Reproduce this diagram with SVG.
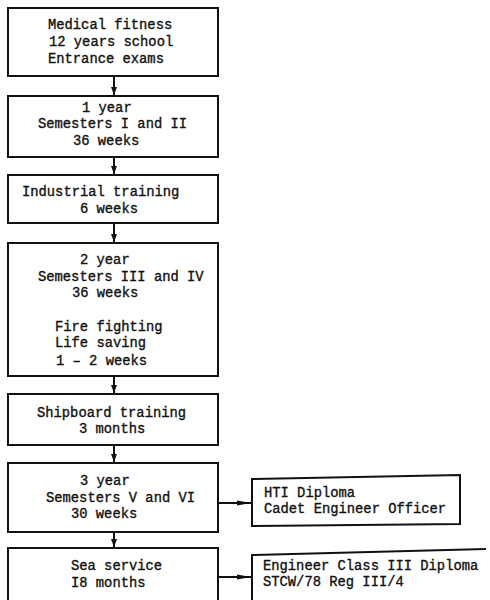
<svg xmlns="http://www.w3.org/2000/svg" width="490" height="600" viewBox="0 0 490 600">
  <style>
    .box { fill: #fff; stroke: #111; stroke-width: 2; }
    .edge { fill: none; stroke: #111; stroke-width: 2; }
    .lbl { font-family: "Liberation Mono", "DejaVu Sans Mono", monospace; font-size: 13.8px; fill: #111; stroke: #111; stroke-width: 0.35; }
  </style>
  <defs>
    <marker id="headDown" viewBox="0 0 8 6" refX="8" refY="3" markerWidth="8" markerHeight="6" markerUnits="userSpaceOnUse" orient="auto">
      <path d="M0,0 L8,3 L0,6 Z" fill="#111"/>
    </marker>
    <marker id="headRight" viewBox="0 0 14 7" refX="14" refY="3.5" markerWidth="14" markerHeight="7" markerUnits="userSpaceOnUse" orient="auto">
      <path d="M0,1 L14,3.5 L0,6 Z" fill="#111"/>
    </marker>
  </defs>

  <rect width="490" height="600" fill="#fff"/>

  <!-- connectors -->
  <g id="connectors">
    <line class="edge" x1="114" y1="76" x2="114" y2="95" marker-end="url(#headDown)"/>
    <line class="edge" x1="114" y1="157" x2="114" y2="174" marker-end="url(#headDown)"/>
    <line class="edge" x1="114" y1="223" x2="114" y2="242" marker-end="url(#headDown)"/>
    <line class="edge" x1="114" y1="376" x2="114" y2="393" marker-end="url(#headDown)"/>
    <line class="edge" x1="114" y1="445" x2="114" y2="462" marker-end="url(#headDown)"/>
    <line class="edge" x1="114" y1="532" x2="114" y2="547" marker-end="url(#headDown)"/>
    <line class="edge" x1="218" y1="503" x2="251" y2="503" marker-end="url(#headRight)"/>
    <line class="edge" x1="218" y1="577" x2="251" y2="577" marker-end="url(#headRight)"/>
  </g>

  <g id="entry">
    <rect class="box" x="8" y="8" width="210" height="68"/>
    <text class="lbl" x="48" y="29">Medical fitness</text>
    <text class="lbl" x="49" y="46">12 years school</text>
    <text class="lbl" x="48" y="63">Entrance exams</text>
  </g>

  <g id="year1">
    <rect class="box" x="8" y="96" width="210" height="61"/>
    <text class="lbl" x="82" y="112">1 year</text>
    <text class="lbl" x="38" y="128">Semesters I and II</text>
    <text class="lbl" x="73" y="145">36 weeks</text>
  </g>

  <g id="industrial">
    <rect class="box" x="8" y="175" width="210" height="48"/>
    <text class="lbl" x="22" y="196">Industrial training</text>
    <text class="lbl" x="80" y="213">6 weeks</text>
  </g>

  <g id="year2">
    <rect class="box" x="8" y="243" width="210" height="133"/>
    <text class="lbl" x="80" y="264">2 year</text>
    <text class="lbl" x="38" y="281">Semesters III and IV</text>
    <text class="lbl" x="72" y="297">36 weeks</text>
    <text class="lbl" x="55" y="331">Fire fighting</text>
    <text class="lbl" x="55" y="347">Life saving</text>
    <text class="lbl" x="56" y="365">1 – 2 weeks</text>
  </g>

  <g id="shipboard">
    <rect class="box" x="8" y="394" width="210" height="51"/>
    <text class="lbl" x="37" y="417">Shipboard training</text>
    <text class="lbl" x="79" y="433">3 months</text>
  </g>

  <g id="year3">
    <rect class="box" x="8" y="463" width="210" height="69"/>
    <text class="lbl" x="80" y="485">3 year</text>
    <text class="lbl" x="46" y="502">Semesters V and VI</text>
    <text class="lbl" x="71" y="518">30 weeks</text>
  </g>

  <g id="sea-service">
    <path class="edge" d="M8,604 L8,548 L218,548 L218,604"/>
    <text class="lbl" x="71" y="570">Sea service</text>
    <text class="lbl" x="71" y="587">I8 months</text>
  </g>

  <g id="hti-diploma">
    <path class="box" d="M252,479 L460,475 L460,524 L252,526 Z"/>
    <text class="lbl" x="264" y="497">HTI Diploma</text>
    <text class="lbl" x="264" y="513">Cadet Engineer Officer</text>
  </g>

  <g id="class3-diploma">
    <path class="edge" d="M252,604 L252,555 L486,549"/>
    <text class="lbl" x="263" y="570">Engineer Class III Diploma</text>
    <text class="lbl" x="263" y="586">STCW/78 Reg III/4</text>
  </g>
</svg>
